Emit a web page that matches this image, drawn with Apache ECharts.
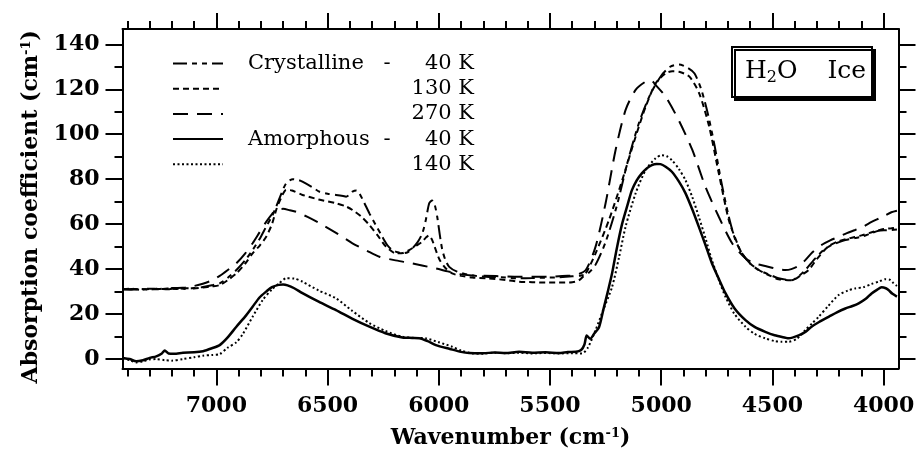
<!DOCTYPE html>
<html><head><meta charset="utf-8">
<script src="https://cdn.jsdelivr.net/npm/echarts@6/dist/echarts.min.js"></script>
<style>html,body{margin:0;padding:0;background:#fff}#c{width:918px;height:449px}</style>
</head><body><div id="c"></div>
<script>
// ---------- data (wavenumber cm^-1, absorption coefficient cm^-1) ----------
const cr40_wn = [7420,7380,7340,7300,7260,7220,7180,7140,7100,7060,7020,6985,6950,6910,6870,6837,6805,6776,6750,6731,6710,6686,6656,6630,6613,6570,6536,6500,6462,6430,6417,6400,6388,6370,6357,6335,6312,6280,6254,6230,6209,6185,6164,6140,6119,6095,6074,6058,6043,6030,6018,6007,5995,5984,5970,5953,5920,5863,5788,5720,5639,5580,5520,5460,5400,5360,5330,5295,5250,5200,5150,5100,5050,5000,4960,4920,4880,4850,4820,4790,4760,4730,4700,4670,4640,4600,4560,4500,4472,4412,4380,4352,4307,4270,4234,4200,4172,4130,4099,4060,4023,3990,3965,3940];
const cr40_abs = [31,30.8,31.2,30.9,31.3,31,31.5,31.2,31.6,32,32.8,33.7,36,39.6,44,48.5,53.5,58.9,63.5,67.8,73,78.2,80,79.6,78.9,76.5,74.4,73.5,73,72.5,72.2,73.2,74.5,75,73.7,69.5,64.8,59,54.4,50.5,48.5,47.5,47,47.5,49.2,52,55.9,62,69.3,70.5,68.5,63.3,55,48.5,44,41,39,37.4,36.6,36.4,35.9,36,36.2,36.4,36.8,37.2,38,42,52,68,88,105,117.5,126,130,131,129.5,127,120,109,95,79,65,54,47.5,42.5,39.5,37,35.9,35.1,37,39.6,44.8,48.5,50.7,52,52.9,53.8,54.4,55.8,57.1,57.3,57.4,57.6];

const cr130_wn = [7420,7380,7340,7300,7260,7220,7180,7140,7100,7060,7020,6985,6950,6910,6870,6837,6805,6776,6750,6731,6710,6686,6660,6613,6540,6462,6420,6388,6350,6312,6275,6237,6192,6160,6133,6100,6074,6058,6045,6030,5998,5970,5940,5900,5850,5788,5700,5639,5580,5520,5460,5400,5370,5339,5295,5235,5175,5115,5070,5025,4980,4950,4920,4873,4829,4784,4741,4696,4660,4637,4600,4561,4520,4472,4412,4375,4337,4300,4250,4200,4150,4099,4050,4000,3965,3940];
const cr130_abs = [31,31.3,30.8,31.2,31,31.4,31.2,31.5,31.4,31.8,32.3,32.9,35,38.1,42.5,47,50.5,54.4,60,66.3,71.5,75.2,75,73,71,69.3,68,66.3,63.5,59.6,55,50,47,47.2,48.5,50.5,52.2,54,55,53,44.5,40.5,38.1,37,36.3,35.9,35.2,34.4,34.2,34,34,34.2,35,38.1,47,61.8,79.6,98.9,112.2,122.6,127.1,128,127.8,125.6,118.2,103.3,82.6,61.8,52,47,42.5,39.6,37.5,35.5,35.1,37,39.6,44.5,50,52.5,53.8,55,56.5,57.8,58.2,58.5];

const cr270_wn = [7420,7380,7340,7300,7260,7220,7180,7140,7100,7061,7020,6985,6950,6910,6870,6837,6805,6776,6750,6731,6700,6670,6641,6590,6536,6460,6388,6320,6267,6200,6133,6070,6013,5960,5908,5850,5743,5639,5560,5480,5420,5380,5339,5295,5250,5205,5160,5115,5070,5045,5025,4980,4920,4860,4801,4741,4681,4621,4580,4532,4472,4442,4415,4380,4352,4320,4280,4240,4202,4165,4128,4090,4054,4010,3965,3940];
const cr270_abs = [31,31.2,31,31.3,31.2,31.5,31.6,31.8,32.5,33.5,35,37,39.5,42.6,47,51.5,56.5,61,64.5,66.3,66.8,66.2,65.5,63.2,60.4,56,51.5,48,45.5,44,42.8,41.5,40.3,39,37.8,37.2,36.9,36.6,36.6,36.7,37,37.5,39.6,50,69.3,93,110.8,119.7,123.4,123.8,121.9,116.7,106,93,76.6,63.3,51.5,44.8,42.5,41.4,39.9,39.6,40,41.5,44,47.5,50.7,52.8,54.4,56,57.4,59,61,63,65.3,66];

const am40_wn = [7420,7390,7360,7330,7300,7270,7245,7232,7215,7190,7150,7100,7060,7020,6985,6950,6910,6870,6837,6805,6776,6750,6720,6700,6680,6650,6613,6540,6462,6390,6312,6240,6164,6120,6088,6050,6013,5950,5900,5863,5800,5750,5700,5639,5580,5520,5460,5420,5384,5360,5345,5335,5320,5300,5280,5260,5240,5221,5200,5176,5150,5132,5110,5087,5065,5042,5020,5003,4980,4952,4920,4891,4860,4831,4800,4772,4740,4711,4670,4621,4580,4532,4490,4442,4427,4382,4350,4324,4290,4247,4210,4172,4140,4112,4080,4054,4030,4009,3990,3978,3960,3940];
const am40_abs = [0.5,0,-1,-0.5,0.5,1.2,2.5,3.8,2.5,2.4,2.8,3,3.5,4.8,6.2,9.5,14.4,19,23.3,27.5,30,32,33,33.2,32.8,31.5,29.3,25.5,21.8,18,14.4,11.5,9.6,9.4,9.3,8,6.2,4.5,3.2,2.7,2.6,2.9,2.7,3.2,2.8,3,2.7,3.1,3.2,4,6.5,10.5,9,11.5,14,22,30,38,49,60,69,75,79.5,82.6,84.8,86.3,86.8,86.7,85.5,83.3,78.9,73.8,66.5,58.9,50.5,42.6,35.5,29.3,22.5,17.3,14.3,12.1,10.6,9.5,9.2,10.5,12.2,14.4,16.5,18.8,20.8,22.5,23.6,24.8,26.8,29.2,30.8,31.9,31.5,30.7,29,27.8];

const am140_wn = [7420,7390,7360,7330,7300,7270,7232,7200,7150,7100,7060,7020,6985,6950,6910,6882,6837,6792,6750,6720,6686,6650,6613,6540,6462,6390,6312,6240,6164,6100,6058,6000,5940,5900,5850,5800,5750,5700,5639,5580,5520,5460,5400,5356,5330,5295,5260,5221,5190,5160,5115,5070,5025,4997,4975,4952,4920,4891,4860,4831,4800,4772,4740,4711,4670,4621,4580,4532,4490,4460,4427,4390,4352,4320,4292,4250,4202,4160,4128,4090,4054,4020,3993,3970,3955,3940];
const am140_abs = [0.5,-0.5,-1.5,-1,-0.2,0,-0.5,-0.7,0,0.8,1.5,1.8,2.2,5,7.5,11,18.8,26.2,31,33.5,35.9,35.8,34.4,30.5,27,21.5,16,12.5,9.9,9.4,9.2,7.5,5.5,3.8,2.5,2.4,2.8,2.6,2.8,2.5,2.7,2.5,2.6,2.5,5,12.9,22,32,45,58.9,73.7,84,89.3,90.7,90.2,88.5,84.5,79.6,72,63.3,53.5,44,35,27.7,20,14.4,11.2,9.2,8,7.7,7.7,9,12.9,16,18.8,23.5,28.5,30.5,31.4,32,33.4,34.5,35.5,35.2,33.7,32.5];

// ---------- axes ticks / labels ----------
const xMajorTicks = [7000,6500,6000,5500,5000,4500,4000];
const xMinorTicks = [7400,7300,7200,7100,7000,6900,6800,6700,6600,6500,6400,6300,6200,6100,6000,5900,5800,5700,5600,5500,5400,5300,5200,5100,5000,4900,4800,4700,4600,4500,4400,4300,4200,4100,4000];
const yMajorTicks = [0,20,40,60,80,100,120,140];
const yMinorTicks = [0,10,20,30,40,50,60,70,80,90,100,110,120,130,140];

const seriesNames = ['Crystalline 40 K','Crystalline 130 K','Crystalline 270 K','Amorphous 40 K','Amorphous 140 K'];
const legendLabels = {
  'Crystalline 40 K': '{s| }{n|Crystalline}{d|-}{k|40 K}',
  'Crystalline 130 K': '{e|130 K}',
  'Crystalline 270 K': '{e|270 K}',
  'Amorphous 40 K': '{s| }{n|Amorphous}{d|-}{k|40 K}',
  'Amorphous 140 K': '{e|140 K}'
};

const SERIF = 'DejaVu Serif';
const pairs = (w, a) => w.map((v, i) => [v, a[i]]);
const XR = {type:'value', min:3933, max:7422, inverse:true, splitLine:{show:false}};
const YR = {type:'value', min:-4.2, max:146.8, splitLine:{show:false}};
const lab = {fontFamily:SERIF, fontWeight:'bold', fontSize:22, color:'#000', formatter:(v) => String(v)};
const axLine = {show:true, onZero:false, lineStyle:{color:'#000', width:2}};
const noLine = {show:false, onZero:false};
const tk = (vals, len) => ({show:true, customValues:vals, length:len, lineStyle:{color:'#000', width:2}});
const nameRich = {
  b:{fontFamily:SERIF, fontWeight:'bold', fontSize:22, color:'#000'},
  u:{fontFamily:SERIF, fontWeight:'bold', fontSize:13, color:'#000', verticalAlign:'top'}
};

const chart = echarts.init(document.getElementById('c'), null, {renderer:'canvas'});
chart.setOption({
  animation:false,
  backgroundColor:'#fff',
  grid:{left:122.5, right:19.5, top:29, bottom:80.5, containLabel:false, outerBoundsMode:'none'},
  title:{
    text:'{t|H}{s|2}{t|O}{g| }{t|Ice}',
    left:732, top:44, padding:[12,6,11,13],
    borderColor:'#000', borderWidth:2, backgroundColor:'#fff',
    shadowColor:'#000', shadowOffsetX:3, shadowOffsetY:3, shadowBlur:0,
    textStyle:{fontWeight:'normal', rich:{
      t:{fontFamily:SERIF, fontWeight:'normal', fontSize:25, color:'#000', lineHeight:30},
      s:{fontFamily:SERIF, fontWeight:'normal', fontSize:16, color:'#000', verticalAlign:'bottom', lineHeight:30},
      g:{fontFamily:SERIF, fontWeight:'normal', fontSize:25, width:30}
    }}
  },
  legend:{
    orient:'vertical', left:172, top:53, padding:0,
    itemWidth:50, itemHeight:14, itemGap:4.2,
    data:seriesNames,
    itemStyle:{color:'rgba(0,0,0,0)', borderWidth:0, opacity:0},
    formatter:(n) => legendLabels[n],
    textStyle:{fontFamily:SERIF, fontSize:21, color:'#000', rich:{
      s:{fontFamily:SERIF, fontSize:21, width:20, lineHeight:20},
      n:{fontFamily:SERIF, fontSize:21, color:'#000', width:131, lineHeight:20},
      d:{fontFamily:SERIF, fontSize:21, color:'#000', width:16, align:'center', lineHeight:20},
      k:{fontFamily:SERIF, fontSize:21, color:'#000', width:79, align:'right', lineHeight:20},
      e:{fontFamily:SERIF, fontSize:21, color:'#000', width:246, align:'right', lineHeight:20}
    }}
  },
  xAxis:[
    Object.assign({}, XR, {position:'bottom', axisLine:axLine, axisTick:tk(xMajorTicks,17),
      axisLabel:Object.assign({show:true, customValues:xMajorTicks, margin:27}, lab),
      name:'{b|Wavenumber (cm}{u|-1}{b|)}', nameLocation:'middle', nameGap:59,
      nameTextStyle:{rich:nameRich}}),
    Object.assign({}, XR, {position:'bottom', axisLine:noLine, axisTick:tk(xMinorTicks,8), axisLabel:{show:false}}),
    Object.assign({}, XR, {position:'top', axisLine:axLine, axisTick:tk(xMajorTicks,16), axisLabel:{show:false}}),
    Object.assign({}, XR, {position:'top', axisLine:noLine, axisTick:tk(xMinorTicks,8), axisLabel:{show:false}})
  ],
  yAxis:[
    Object.assign({}, YR, {position:'left', axisLine:axLine, axisTick:tk(yMajorTicks,17),
      axisLabel:Object.assign({show:true, customValues:yMajorTicks, margin:23}, lab),
      name:'{b|Absorption coefficient (cm}{u|-1}{b|)}', nameLocation:'middle', nameGap:80,
      nameTextStyle:{rich:nameRich, padding:[0,16,0,0]}}),
    Object.assign({}, YR, {position:'left', axisLine:noLine, axisTick:tk(yMinorTicks,8), axisLabel:{show:false}}),
    Object.assign({}, YR, {position:'right', axisLine:axLine, axisTick:tk(yMajorTicks,17), axisLabel:{show:false}}),
    Object.assign({}, YR, {position:'right', axisLine:noLine, axisTick:tk(yMinorTicks,8), axisLabel:{show:false}})
  ],
  series:[
    {name:seriesNames[0], type:'line', data:pairs(cr40_wn, cr40_abs), symbol:'none', smooth:0.25,
     lineStyle:{color:'#000', width:2, type:[14,5,5,5,5,5]}, itemStyle:{color:'#000'}},
    {name:seriesNames[1], type:'line', data:pairs(cr130_wn, cr130_abs), symbol:'none', smooth:0.25,
     lineStyle:{color:'#000', width:2, type:[6,4]}, itemStyle:{color:'#000'}},
    {name:seriesNames[2], type:'line', data:pairs(cr270_wn, cr270_abs), symbol:'none', smooth:0.25,
     lineStyle:{color:'#000', width:2, type:[15,9]}, itemStyle:{color:'#000'}},
    {name:seriesNames[3], type:'line', data:pairs(am40_wn, am40_abs), symbol:'none', smooth:0.25,
     lineStyle:{color:'#000', width:2.5, type:'solid'}, itemStyle:{color:'#000'}},
    {name:seriesNames[4], type:'line', data:pairs(am140_wn, am140_abs), symbol:'none', smooth:0.25,
     lineStyle:{color:'#000', width:2, type:[2,2.5]}, itemStyle:{color:'#000'}}
  ]
});
</script></body></html>
